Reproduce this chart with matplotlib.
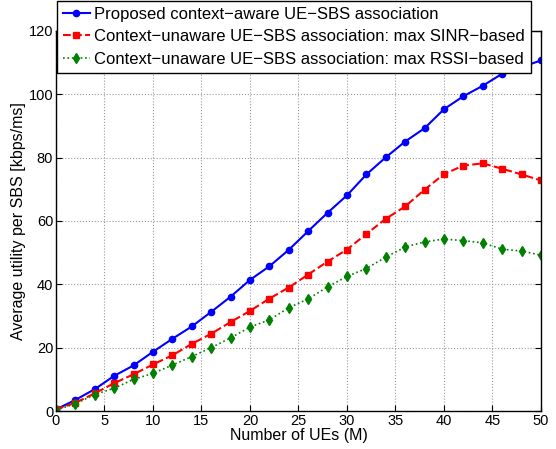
import matplotlib.pyplot as plt

plt.rcParams['font.family'] = ['Liberation Sans', 'DejaVu Sans']

# number of UEs
num_ues = [0, 2, 4, 6, 8, 10, 12, 14, 16, 18, 20, 22, 24, 26, 28, 30,
           32, 34, 36, 38, 40, 42, 44, 46, 48, 50]

# average utility per SBS
proposed = [0.5, 3.5, 6.9, 11.1, 14.4, 18.7, 22.8, 26.7, 31.3, 36.1, 41.4,
            45.7, 50.9, 56.8, 62.6, 68.1, 74.7, 80.1, 85.1, 89.3, 95.3,
            99.4, 102.7, 106.5, 108.6, 110.7]
sinr_based = [0.5, 2.6, 5.6, 8.8, 11.6, 14.7, 17.6, 21.2, 24.4, 28.1, 31.6,
              35.5, 39.0, 43.1, 47.2, 51.0, 55.9, 60.7, 64.6, 69.9, 74.8,
              77.5, 78.2, 76.5, 74.7, 72.8]
rssi_based = [0.3, 2.3, 5.2, 7.2, 10.0, 11.9, 14.5, 17.2, 20.0, 23.1, 26.5,
              28.8, 32.6, 35.4, 39.2, 42.5, 45.0, 48.6, 51.8, 53.4, 54.3,
              53.8, 53.1, 51.1, 50.5, 49.2]

labels = ['Proposed context\u2212aware UE\u2212SBS association',
          'Context\u2212unaware UE\u2212SBS association: max SINR\u2212based',
          'Context\u2212unaware UE\u2212SBS association: max RSSI\u2212based']

fig = plt.figure(figsize=(5.56, 4.49), dpi=100)
ax = fig.add_axes([0.1007, 0.0846, 0.8723, 0.8464])

ax.plot(num_ues, proposed, '-o', color='#0000ff', lw=1.5, ms=4.5, label=labels[0])
ax.plot(num_ues, sinr_based, '--s', color='#ff0000', lw=1.5, ms=4.5, label=labels[1])
ax.plot(num_ues, rssi_based, ':d', color='#008000', lw=1.2, ms=5.5, label=labels[2])

ax.set_xlim(0, 50)
ax.set_ylim(0, 120)
ax.set_xticks(range(0, 51, 5))
ax.set_yticks(range(0, 121, 20))
ax.tick_params(direction='in', labelsize=10.5, top=True, right=True, length=4, pad=2)
ax.grid(True, linestyle=':', color='#999999', lw=0.8)
for s in ax.spines.values():
    s.set_linewidth(1.0)

ax.set_xlabel('Number of UEs (M)', fontsize=11.5, labelpad=0)
ax.set_ylabel('Average utility per SBS [kbps/ms]', fontsize=11.5, labelpad=2)

leg = ax.legend(loc='upper left', bbox_to_anchor=(57 / 556, 448 / 449),
                bbox_transform=fig.transFigure, fontsize=12,
                fancybox=False, framealpha=1, edgecolor='black',
                borderpad=0.35, labelspacing=0.45, handlelength=1.6,
                handletextpad=0.3, borderaxespad=0)
leg.get_frame().set_linewidth(1.0)

fig.savefig('out.png', dpi=100)
